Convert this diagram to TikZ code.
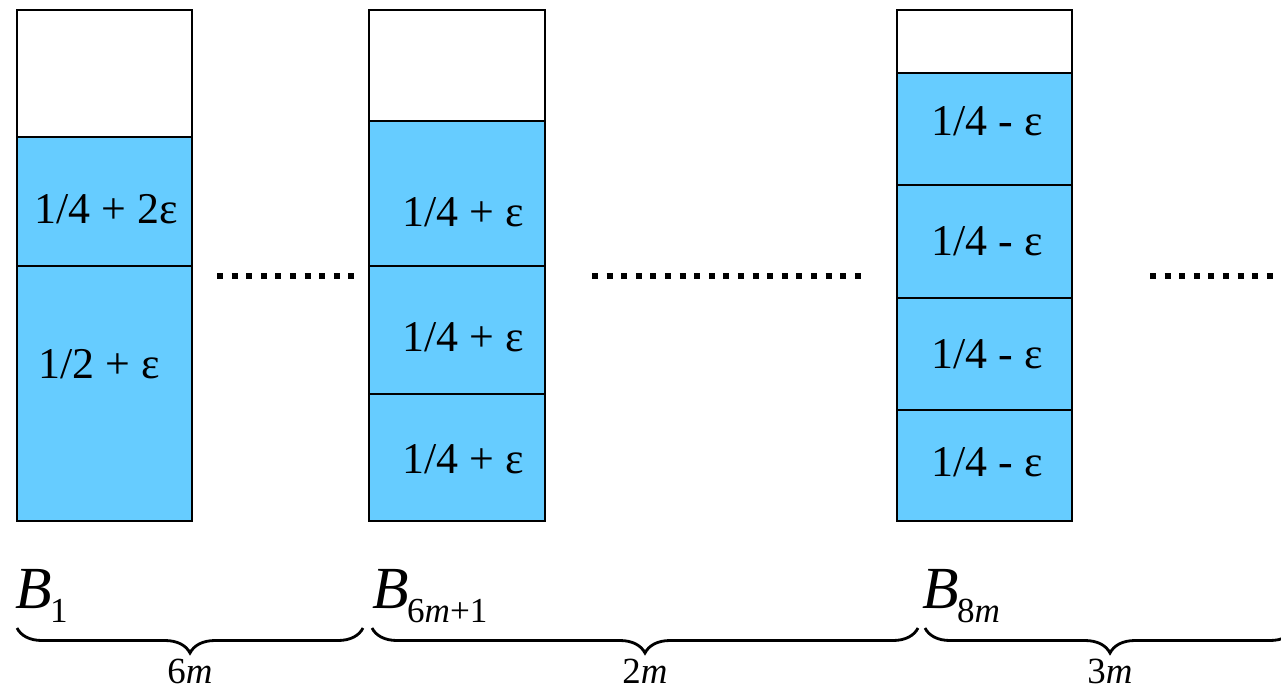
\documentclass[tikz,border=0pt]{standalone}
\usepackage{fontspec}
\setmainfont{Liberation Serif}
\usetikzlibrary{decorations.pathreplacing}
\definecolor{binblue}{HTML}{66CCFF}
\newcommand{\binname}[1]{\textit{B}\kern-1pt\raisebox{-8pt}{\fontsize{20}{20}\selectfont #1}}

\begin{document}
\begin{tikzpicture}[x=0.02cm, y=-0.02cm,
        filled/.style={draw=black, fill=binblue, line width=1.1pt},
        emptypart/.style={draw=black, fill=white, line width=1.1pt},
        itemlabel/.style={font=\fontsize{25}{30}\selectfont, inner sep=0pt, anchor=base},
        binlabel/.style={font=\fontsize{34}{40}\selectfont, inner sep=0pt, anchor=base west},
        countlabel/.style={font=\fontsize{21}{24}\selectfont, inner sep=0pt, anchor=base},
        dotrow/.style={line width=0.12cm, dash pattern=on 0.12cm off 0.172cm},
        groupbrace/.style={decorate, decoration={brace, mirror, amplitude=0.5cm}, line width=1.6pt}
    ]
        \useasboundingbox (0,0) rectangle (1281,691);

        % Bin B_1
        \draw[emptypart] (17,10) rectangle (192,137);
        \draw[filled] (17,137) rectangle (192,266);
        \draw[filled] (17,266) rectangle (192,521);
        \node[itemlabel] (b1top) at (106,223) {1/4 + 2ε};
        \node[itemlabel, anchor=base west] (b1low) at (38,378) {1/2 + ε};

        % Bin B_{6m+1}
        \draw[emptypart] (369,10) rectangle (545,121);
        \draw[filled] (369,121) rectangle (545,266);
        \draw[filled] (369,266) rectangle (545,394);
        \draw[filled] (369,394) rectangle (545,521);
        \node[itemlabel] (b2a) at (463,226) {1/4 + ε};
        \node[itemlabel] (b2b) at (463,351) {1/4 + ε};
        \node[itemlabel] (b2c) at (463,473) {1/4 + ε};

        % Bin B_{8m}
        \draw[emptypart] (897,10) rectangle (1072,73);
        \draw[filled] (897,73) rectangle (1072,185);
        \draw[filled] (897,185) rectangle (1072,298);
        \draw[filled] (897,298) rectangle (1072,410);
        \draw[filled] (897,410) rectangle (1072,521);
        \node[itemlabel] (b3a) at (987,135) {1/4 - ε};
        \node[itemlabel] (b3b) at (987,255) {1/4 - ε};
        \node[itemlabel] (b3c) at (987,368) {1/4 - ε};
        \node[itemlabel] (b3d) at (987,476) {1/4 - ε};

        % Puntos entre los bins
        \draw[dotrow] (217,276) -- (357,276);
        \draw[dotrow] (592,276) -- (864,276);
        \draw[dotrow] (1150,276) -- (1290,276);

        % Nombres de los bins
        \node[binlabel] (name1) at (15,608) {\binname{1}};
        \node[binlabel] (name2) at (372,608) {\binname{6\textit{m}+1}};
        \node[binlabel] (name3) at (922,608) {\binname{8\textit{m}}};

        % Llaves con las cantidades
        \draw[groupbrace] (17,628) -- node[countlabel, below=0.6cm] (cnt1) {6\textit{m}} (363,628);
        \draw[groupbrace] (372,628) -- node[countlabel, below=0.6cm] (cnt2) {2\textit{m}} (918,628);
        \draw[groupbrace] (925,628) -- node[countlabel, below=0.6cm] (cnt3) {3\textit{m}} (1295,628);

    \end{tikzpicture}
\end{document}
